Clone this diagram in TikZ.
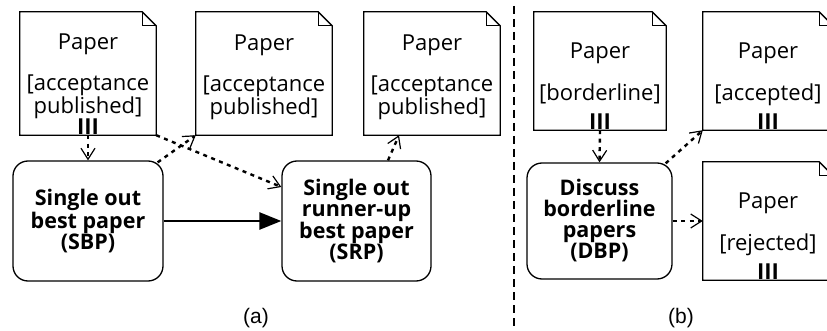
\documentclass[tikz,border=0pt]{standalone}
\usepackage{fontspec}
\setmainfont{Open Sans}
\newfontfamily\capfont{Liberation Sans}
\usetikzlibrary{arrows.meta,calc}
\tikzset{
  paper/.style={rectangle, draw=none, inner sep=0pt},
  act/.style={rectangle, rounded corners=15pt, draw, line width=1.3pt, inner sep=0pt, align=center, font=\bfseries\fontsize{21.5}{21}\selectfont},
  ptext/.style={align=center, inner sep=0pt, anchor=north, font=\fontsize{22}{21}\selectfont},
  flow/.style={line width=2.4pt, dash pattern=on 4pt off 4.5pt, -{Straight Barb[length=11pt,width=14pt,line width=1.2pt]}},
  ctrl/.style={line width=2.6pt, -{Triangle[length=22pt,width=17pt]}},
  divider/.style={line width=2.2pt, dash pattern=on 8pt off 5pt},
  sublabel/.style={inner sep=0pt, font=\capfont\fontsize{21}{21}\selectfont},
  edge/.style={line width=1.3pt, line join=miter}
}
\newcommand\paperedge[1]{%
  \draw[edge] (#1.north west) -- ([xshift=-14pt]#1.north east) -- ([yshift=-14pt]#1.north east) -- (#1.south east) -- (#1.south west) -- cycle;
  \draw[edge] ([xshift=-14pt]#1.north east) |- ([yshift=-14pt]#1.north east);}
\begin{document}
\begin{tikzpicture}[x=1pt,y=-1pt]
\useasboundingbox (0,0) rectangle (827,331);
% papers
\node[paper, minimum width=136pt, minimum height=123pt] (p1) at (88,73.5) {};
\node[paper, minimum width=136pt, minimum height=123pt] (p2) at (264,73.5) {};
\node[paper, minimum width=136pt, minimum height=123pt] (p3) at (432,73.5) {};
\node[paper, minimum width=132pt, minimum height=118pt] (pb) at (600,71) {};
\node[paper, minimum width=130pt, minimum height=118pt] (pacc) at (768,71) {};
\node[paper, minimum width=130pt, minimum height=118pt] (prej) at (768,221) {};
\paperedge{p1}\paperedge{p2}\paperedge{p3}\paperedge{pb}\paperedge{pacc}\paperedge{prej}
\node[ptext] (p1t) at ([yshift=-21.5pt]p1.north) {Paper\\[20pt]{[}acceptance\\published{]}\\[0.5pt]\textbf{III}};
\node[ptext] (p2t) at ([yshift=-22.5pt]p2.north) {Paper\\[20pt]{[}acceptance\\published{]}};
\node[ptext] (p3t) at ([yshift=-22.5pt]p3.north) {Paper\\[20pt]{[}acceptance\\published{]}};
\node[ptext] (pbt) at ([yshift=-30.5pt]pb.north) {Paper\\[19pt]{[}borderline{]}\\[8pt]\textbf{III}};
\node[ptext] (pacct) at ([yshift=-30.5pt]pacc.north) {Paper\\[19pt]{[}accepted{]}\\[8pt]\textbf{III}};
\node[ptext] (prejt) at ([yshift=-30.5pt]prej.north) {Paper\\[19pt]{[}rejected{]}\\[8pt]\textbf{III}};
% activities
\node[act, minimum width=150pt, minimum height=120pt] (sbp) at (88,221) {Single out\\best paper\\(SBP)};
\node[act, minimum width=149pt, minimum height=120pt] (srp) at (356.5,221) {Single out\\runner-up\\best paper\\(SRP)};
\node[act, minimum width=145pt, minimum height=116pt] (dbp) at (599.5,221) {Discuss\\borderline\\papers\\(DBP)};
% connectors
\draw[flow] (p1.south) -- (sbp.north);
\draw[flow] ($(sbp.north east)+(-6,2)$) -- (p2.south west);
\draw[flow] (p1.south east) -- ($(srp.west)+(0,-34)$);
\draw[flow] ($(srp.north)+(31.5,0)$) -- ($(p3.south)+(-33,0)$);
\draw[ctrl] (sbp.east) -- (srp.west);
\draw[flow] (pb.south) -- (dbp.north);
\draw[flow] ($(dbp.north east)+(-7,1)$) -- (pacc.south west);
\draw[flow] (dbp.east) -- (prej.west);
% divider
\coordinate (dtop) at (514,6);
\coordinate (dbot) at (514,331);
\draw[divider] (dtop) -- (dbot);
% sub labels
\node[sublabel] (la) at (256,318) {(a)};
\node[sublabel] (lb) at (681,318) {(b)};
\end{tikzpicture}
\end{document}
